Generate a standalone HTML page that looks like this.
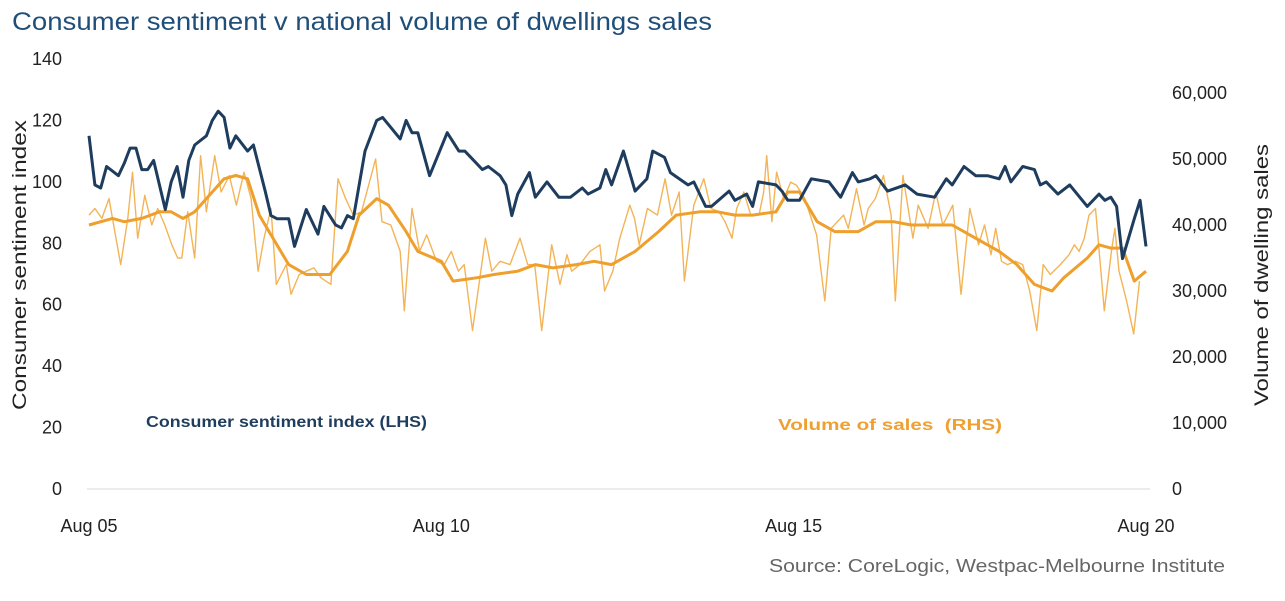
<!DOCTYPE html>
<html><head><meta charset="utf-8"><style>
body{margin:0;background:#fff;}
svg{display:block;font-family:"Liberation Sans",sans-serif;}
</style></head><body>
<svg id="c" width="1285" height="601" viewBox="0 0 1285 601">
<text x="12" y="30" font-size="25" fill="#1f4e79" textLength="700" lengthAdjust="spacingAndGlyphs">Consumer sentiment v national volume of dwellings sales</text>
<g id="axes"></g>
<g id="series"></g>
<text x="146" y="427" font-size="16" font-weight="bold" fill="#1f3d5c" textLength="281" lengthAdjust="spacingAndGlyphs">Consumer sentiment index (LHS)</text>
<text x="778" y="430" font-size="16" font-weight="bold" fill="#f0a030" textLength="224" lengthAdjust="spacingAndGlyphs">Volume of sales&#160;&#160;(RHS)</text>
<text x="769" y="572" font-size="18" fill="#666" textLength="456" lengthAdjust="spacingAndGlyphs">Source: CoreLogic, Westpac-Melbourne Institute</text>
<text transform="translate(26,265) rotate(-90)" font-size="19" fill="#222" text-anchor="middle" textLength="290" lengthAdjust="spacingAndGlyphs">Consumer sentiment index</text>
<text transform="translate(1268,275) rotate(-90)" font-size="19" fill="#222" text-anchor="middle" textLength="262" lengthAdjust="spacingAndGlyphs">Volume of dwelling sales</text>
</svg>
<script>
const leftTicks=[0,20,40,60,80,100,120,140];
const rightTicks=[0,10000,20000,30000,40000,50000,60000];
const xTickLabels=["Aug 05","Aug 10","Aug 15","Aug 20"];
const xTickMonths=[0,60,120,180];
const sentMonths=[0,1,2,3,5,6,7,8,9,10,11,13,14,15,16,17,18,20,21,22,23,24,25,27,28,30,31,32,34,35,37,39,40,42,43,44,45,47,49,50,53,54,55,56,58,61,62,63,64,66,67,68,70,71,72,73,75,76,78,80,82,84,85,87,88,89,91,93,95,96,98,99,102,103,105,106,109,110,112,113,114,117,118,119,121,123,126,128,130,131,133,134,136,139,141,144,146,147,149,151,153,155,156,157,159,161,162,163,165,167,170,172,173,174,175,176,178,179,180];
const sentValues=[115,99,98,105,102,106,111,111,104,104,107,91,100,105,95,107,112,115,120,123,121,111,115,110,112,97,89,88,88,79,91,83,92,86,85,89,88,110,120,121,114,120,116,116,102,116,113,110,110,106,104,105,102,99,89,96,103,95,100,95,95,98,96,98,104,99,110,97,101,110,108,103,99,100,92,92,97,94,96,92,100,99,97,94,94,101,100,95,103,100,101,102,97,99,96,95,101,99,105,102,102,101,105,100,105,104,99,100,96,99,92,96,94,95,92,75,88,94,79];
const salesMonths=[0,1,2.2,3.4,4.4,5.4,6.6,7.4,8.3,9.5,10.7,11.7,12.9,14.1,15.1,15.8,16.8,18,19,20,21.4,22.5,23.9,25.1,26.4,27.6,28.8,29.8,31,31.9,33.6,34.4,35.8,37,38.3,39.5,41.2,42.4,43.7,45,46.4,47.3,48.8,49.9,51.4,53,53.7,55,56.3,57.5,59.2,60.5,61.7,62.9,63.9,65.3,67.5,68.6,70,71.7,73.4,74.7,75.9,77.1,78.8,80.2,81.4,82.2,83.6,85.3,87,87.8,89.2,90.4,92.1,92.9,93.7,95.1,96.8,98.1,99.2,100.5,101.4,103,104.7,105.9,107.3,108.3,109.5,110.3,111.5,112.7,114.1,114.9,115.4,116.3,117.1,118.3,119.5,120.5,121.9,123.9,125.3,126.4,128.5,129.3,130.7,132,132.7,133.9,135.3,136.6,137.3,138.6,140.3,141.2,142.9,144.2,145.4,147.1,148.5,150,151.5,152.5,153.6,154.4,155.4,156.4,157.8,159,160.2,161.4,162.5,163.7,165.4,166.9,167.8,168.6,169.5,170.3,171.4,172.9,174.1,174.7,175.4,176.7,177.9,178.9];
const salesValues=[41500,42500,41000,44000,39000,34000,41000,48000,38000,44500,40000,42500,40000,37000,35000,35000,42000,35000,50500,42000,50500,45000,47500,43000,48000,44000,33000,38000,42500,31000,34000,29500,32500,33000,33500,32000,31000,47000,44000,41500,42000,45000,50000,40500,40000,36000,27000,42500,36000,38500,34500,34000,36000,33000,34000,24000,38000,33000,34500,34000,38000,34000,34000,24000,37000,31000,35500,33000,34000,36000,37000,30000,33000,38000,43000,41000,37000,42500,41500,47000,41500,45000,31500,43000,47000,42500,42000,40500,38000,42500,45000,41500,41500,45000,50500,40500,48000,44000,46500,46000,44000,38500,28500,39500,41500,39500,45500,40000,42500,44000,47500,41500,28500,47500,38000,43000,39500,45000,40000,43000,29500,42500,37000,40000,35500,39500,34500,34000,34500,34000,30000,24000,34000,32500,34000,35500,37000,36000,38000,41500,42500,27000,36000,39500,33000,28500,23500,31500,36000,31500];
const smoothMonths=[0,4,6,9,12,14,16,18,20,23,25,27,29,32,34,37,41,44,46,49,51,54,56,60,62,66,69,73,76,79,83,86,89,93,97,100,104,107,110,113,117,119,121,124,127,131,134,137,140,144,147,150,155,158,161,164,166,170,172,174,176,178,180];
const smoothValues=[40000,41000,40500,41000,42000,42000,41000,42000,44000,47000,47500,47000,41500,37000,34000,32500,32500,36000,41500,44000,43000,39000,36000,34500,31500,32000,32500,33000,34000,33500,34000,34500,34000,36000,39000,41500,42000,42000,41500,41500,42000,45000,45000,40500,39000,39000,40500,40500,40000,40000,40000,38500,36000,34000,31000,30000,32000,35000,37000,36500,36500,31500,33000];

const NS="http://www.w3.org/2000/svg";
const xPos=m=>89+m*(1146-89)/180;
const yL=v=>489-v*(489-59)/140;
const yR=v=>489-v*(489-93)/60000;
const axes=document.getElementById('axes'), ser=document.getElementById('series');
function txt(g,x,y,s,anchor){const t=document.createElementNS(NS,'text');t.setAttribute('x',x);t.setAttribute('y',y);t.setAttribute('font-size','18');t.setAttribute('fill','#222');t.setAttribute('text-anchor',anchor);t.textContent=s;g.appendChild(t);return t;}
leftTicks.forEach(v=>{const t=txt(axes,62,yL(v)+6,String(v),'end');

});
rightTicks.forEach(v=>{const t=txt(axes,1172,yR(v)+6,v.toLocaleString('en-US'),'start');

});
xTickLabels.forEach((s,i)=>{const t=txt(axes,xPos(xTickMonths[i]),532,s,'middle');

});
const base=document.createElementNS(NS,'line');
base.setAttribute('x1',87);base.setAttribute('x2',1150);base.setAttribute('y1',489);base.setAttribute('y2',489);base.setAttribute('stroke','#d9d9d9');


axes.appendChild(base);
function line(ms,vs,yf,color,w,name){const n=Math.min(ms.length,vs.length);let d='';for(let i=0;i<n;i++)d+=(i?'L':'M')+xPos(ms[i]).toFixed(1)+','+yf(vs[i]).toFixed(1);
const p=document.createElementNS(NS,'path');p.setAttribute('d',d);p.setAttribute('fill','none');p.setAttribute('stroke',color);p.setAttribute('stroke-width',w);p.setAttribute('stroke-linejoin','round');


ser.appendChild(p);}
line(salesMonths,salesValues,yR,'#f3b457',1.4,'sales-monthly-line');
line(smoothMonths,smoothValues,yR,'#ee9f2c',3,'sales-smoothed-line');
line(sentMonths,sentValues,yL,'#1e3d5e',3,'sentiment-line');
</script>
</body></html>
